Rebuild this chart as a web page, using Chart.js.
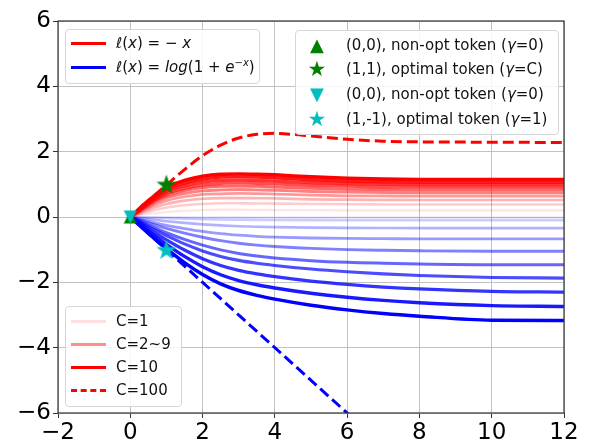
<!DOCTYPE html>
<html lang="en">
<head>
<meta charset="UTF-8">
<title>Token margin curves</title>
<style>
  body { margin: 0; background: #fff; font-family: "DejaVu Sans", sans-serif; }
  #wrap { position: relative; width: 610px; height: 443px; overflow: hidden; }
  .legend { position: absolute; background: rgba(255,255,255,0.85); border: 1px solid #d6d6d6; border-radius: 4px; font-size: 15px; color: #111; }
  .item { position: absolute; left: 0; height: 20px; line-height: 20px; white-space: nowrap; }
  .sw { position: absolute; left: 5px; width: 35px; top: 9px; }
  .lbl { position: absolute; left: 50px; top: 0; }
  .mk { position: absolute; width: 30px; text-align: center; top: 0; font-size: 18px; }
  .math i { font-style: italic; }
</style>
</head>
<body>
<div id="wrap">
  <canvas id="chart" width="610" height="443"></canvas>

  <!-- loss legend -->
  <div class="legend" style="left:65px;top:29px;width:193px;height:53px;">
    <div class="item" style="top:3px;"><div class="sw" style="border-top:3px solid #ff0000;"></div>
      <span class="lbl math"><i>ℓ</i>(<i>x</i>) = − <i>x</i></span></div>
    <div class="item" style="top:27px;"><div class="sw" style="border-top:3px solid #0000ff;"></div>
      <span class="lbl math"><i>ℓ</i>(<i>x</i>) = <i>log</i>(1 + <i>e</i><sup style="font-size:10px;line-height:0;">−<i>x</i></sup>)</span></div>
  </div>

  <!-- marker legend -->
  <div class="legend" style="left:295px;top:30px;width:262px;height:103px;">
    <div class="item" style="top:4px;"><span class="mk" style="left:6px;color:#008000;">▲</span><span class="lbl">(0,0), non-opt token (<i>γ</i>=0)</span></div>
    <div class="item" style="top:28px;"><span class="mk" style="left:6px;color:#008000;font-size:21px;">★</span><span class="lbl">(1,1), optimal token (<i>γ</i>=C)</span></div>
    <div class="item" style="top:53px;"><span class="mk" style="left:6px;color:#00bfbf;">▼</span><span class="lbl">(0,0), non-opt token (<i>γ</i>=0)</span></div>
    <div class="item" style="top:78px;"><span class="mk" style="left:6px;color:#00bfbf;font-size:21px;">★</span><span class="lbl">(1,-1), optimal token (<i>γ</i>=1)</span></div>
  </div>

  <!-- C legend -->
  <div class="legend" style="left:65px;top:306px;width:115px;height:99px;">
    <div class="item" style="top:4px;"><div class="sw" style="border-top:3px solid rgba(255,0,0,0.12);"></div><span class="lbl">C=1</span></div>
    <div class="item" style="top:27px;"><div class="sw" style="border-top:3px solid rgba(255,0,0,0.45);"></div><span class="lbl">C=2~9</span></div>
    <div class="item" style="top:50px;"><div class="sw" style="border-top:3px solid #ff0000;"></div><span class="lbl">C=10</span></div>
    <div class="item" style="top:73px;"><div class="sw" style="border-top:3px dashed #ff0000;"></div><span class="lbl">C=100</span></div>
  </div>
</div>

<script src="https://cdn.jsdelivr.net/npm/chart.js"></script>
<script>
// x positions of the sampled curves
const xsRed = [0, 0.5, 1, 1.5, 2, 2.5, 3, 3.5, 4, 5, 6, 7, 8, 10, 12];
const xsBlue = [0, 0.5, 1, 1.5, 2, 2.5, 3, 3.5, 4, 5, 6, 7, 8, 10, 12];
const xsRedDash = [0, 0.5, 1, 1.5, 2, 2.5, 3, 3.5, 4, 4.5, 5, 6, 7, 8, 10, 12];
const xsBlueDash = [0, 7];

// l(x) = -x, C = 1..10
const redC1  = [0, 0.09, 0.15, 0.19, 0.21, 0.22, 0.22, 0.215, 0.21, 0.21, 0.20, 0.20, 0.20, 0.20, 0.20];
const redC2  = [0, 0.16, 0.29, 0.36, 0.40, 0.42, 0.42, 0.415, 0.41, 0.40, 0.39, 0.385, 0.38, 0.38, 0.38];
const redC3  = [0, 0.23, 0.40, 0.50, 0.56, 0.58, 0.58, 0.575, 0.57, 0.54, 0.53, 0.525, 0.52, 0.52, 0.52];
const redC4  = [0, 0.29, 0.50, 0.62, 0.69, 0.71, 0.72, 0.715, 0.70, 0.67, 0.65, 0.645, 0.64, 0.64, 0.64];
const redC5  = [0, 0.34, 0.59, 0.72, 0.80, 0.83, 0.84, 0.83, 0.82, 0.78, 0.76, 0.75, 0.74, 0.74, 0.74];
const redC6  = [0, 0.38, 0.66, 0.81, 0.90, 0.94, 0.95, 0.94, 0.92, 0.88, 0.85, 0.84, 0.83, 0.83, 0.83];
const redC7  = [0, 0.41, 0.72, 0.88, 0.98, 1.03, 1.04, 1.03, 1.01, 0.97, 0.94, 0.92, 0.91, 0.91, 0.91];
const redC8  = [0, 0.44, 0.78, 0.96, 1.07, 1.12, 1.13, 1.12, 1.10, 1.05, 1.02, 1.00, 0.99, 0.99, 0.99];
const redC9  = [0, 0.47, 0.84, 1.04, 1.16, 1.22, 1.23, 1.22, 1.20, 1.14, 1.10, 1.08, 1.07, 1.07, 1.07];
const redC10 = [0, 0.50, 0.90, 1.12, 1.25, 1.31, 1.32, 1.31, 1.29, 1.23, 1.185, 1.16, 1.15, 1.15, 1.15];
const redC100 = [0, 0.50, 0.98, 1.45, 1.88, 2.20, 2.42, 2.53, 2.56, 2.53, 2.48, 2.38, 2.32, 2.30, 2.29, 2.28];

// l(x) = log(1 + e^-x), C = 1..10
const blueC1  = [0, -0.004, -0.008, -0.011, -0.013, -0.015, -0.017, -0.018, -0.018, -0.019, -0.02, -0.02, -0.02, -0.02, -0.02];
const blueC2  = [0, -0.02, -0.038, -0.053, -0.066, -0.076, -0.083, -0.088, -0.092, -0.096, -0.098, -0.099, -0.10, -0.10, -0.10];
const blueC3  = [0, -0.068, -0.129, -0.18, -0.224, -0.258, -0.282, -0.299, -0.311, -0.326, -0.333, -0.337, -0.34, -0.34, -0.34];
const blueC4  = [0, -0.134, -0.255, -0.355, -0.442, -0.509, -0.556, -0.59, -0.613, -0.643, -0.657, -0.663, -0.67, -0.67, -0.67];
const blueC5  = [0, -0.179, -0.347, -0.494, -0.62, -0.725, -0.803, -0.861, -0.903, -0.961, -0.998, -1.019, -1.034, -1.05, -1.05];
const blueC6  = [0, -0.248, -0.482, -0.686, -0.861, -1.007, -1.117, -1.197, -1.256, -1.336, -1.387, -1.416, -1.438, -1.46, -1.46];
const blueC7  = [0, -0.295, -0.57, -0.823, -1.038, -1.206, -1.328, -1.416, -1.483, -1.593, -1.677, -1.743, -1.791, -1.851, -1.87];
const blueC8  = [0, -0.363, -0.702, -1.012, -1.277, -1.484, -1.633, -1.741, -1.824, -1.96, -2.063, -2.144, -2.203, -2.277, -2.30];
const blueC9  = [0, -0.433, -0.836, -1.206, -1.521, -1.767, -1.945, -2.074, -2.173, -2.334, -2.458, -2.554, -2.625, -2.713, -2.74];
const blueC10 = [0, -0.50, -0.967, -1.395, -1.759, -2.045, -2.251, -2.40, -2.514, -2.701, -2.843, -2.954, -3.037, -3.16, -3.17];
const blueC100 = [0, -7];

// marker points
const greenTri = [{x: 0, y: 0}];
const greenStar = [{x: 1, y: 1}];
const cyanTri = [{x: 0, y: 0}];
const cyanStar = [{x: 1, y: -1}];

const xTicks = [-2, 0, 2, 4, 6, 8, 10, 12];
const yTicks = [-6, -4, -2, 0, 2, 4, 6];

const redCurves = [redC1, redC2, redC3, redC4, redC5, redC6, redC7, redC8, redC9, redC10];
const blueCurves = [blueC1, blueC2, blueC3, blueC4, blueC5, blueC6, blueC7, blueC8, blueC9, blueC10];

function pts(xs, ys) {
  return xs.map((x, i) => ({x: x, y: ys[i]}));
}

function makeStar(color, size) {
  const c = document.createElement('canvas');
  c.width = size; c.height = size;
  const g = c.getContext('2d');
  const cx = size / 2, cy = size / 2 + 0.8, R = size / 2 - 0.5, r = R * 0.4;
  g.beginPath();
  for (let i = 0; i < 10; i++) {
    const a = -Math.PI / 2 + i * Math.PI / 5;
    const rad = i % 2 === 0 ? R : r;
    g.lineTo(cx + rad * Math.cos(a), cy + rad * Math.sin(a));
  }
  g.closePath();
  g.fillStyle = color;
  g.fill();
  return c;
}

// matplotlib-style triangle, centred on its bounding box
function makeTri(color, size, down) {
  const c = document.createElement('canvas');
  c.width = size; c.height = size;
  const g = c.getContext('2d');
  g.beginPath();
  if (down) {
    g.moveTo(size / 2, size - 0.5); g.lineTo(0.5, 0.5); g.lineTo(size - 0.5, 0.5);
  } else {
    g.moveTo(size / 2, 0.5); g.lineTo(0.5, size - 0.5); g.lineTo(size - 0.5, size - 0.5);
  }
  g.closePath();
  g.fillStyle = color;
  g.fill();
  return c;
}

function minus(v) {
  return v < 0 ? '\u2212' + Math.abs(v) : String(v);
}

const datasets = [];

// markers on top
datasets.push({ data: cyanStar, showLine: false, pointStyle: makeStar('#00bfbf', 22), pointRadius: 10, clip: false });
datasets.push({ data: greenStar, showLine: false, pointStyle: makeStar('#008000', 22), pointRadius: 10, clip: false });
datasets.push({ data: cyanTri, showLine: false, pointStyle: makeTri('#00bfbf', 14, true), pointRadius: 7, clip: false });
datasets.push({ data: greenTri, showLine: false, pointStyle: makeTri('#008000', 14, false), pointRadius: 7, clip: false });

// C = 100 dashed
datasets.push({ data: pts(xsRedDash, redC100), borderColor: '#ff0000', borderWidth: 3, borderDash: [11, 5],
  pointRadius: 0, cubicInterpolationMode: 'monotone' });
datasets.push({ data: pts(xsBlueDash, blueC100), borderColor: '#0000ff', borderWidth: 3, borderDash: [11, 5],
  pointRadius: 0 });

for (let c = 10; c >= 1; c--) {
  datasets.push({ data: pts(xsRed, redCurves[c - 1]), borderColor: `rgba(255,0,0,${c / 10})`,
    borderWidth: 2.3 + c * 0.12, pointRadius: 0, cubicInterpolationMode: 'monotone' });
}
for (let c = 10; c >= 1; c--) {
  datasets.push({ data: pts(xsBlue, blueCurves[c - 1]), borderColor: `rgba(0,0,255,${c / 10})`,
    borderWidth: 2.3 + c * 0.12, pointRadius: 0, cubicInterpolationMode: 'monotone' });
}

const frame = {
  id: 'frame',
  afterDatasetsDraw(chart) {
    const a = chart.chartArea, ctx = chart.ctx;
    ctx.save();
    ctx.strokeStyle = '#333';
    ctx.lineWidth = 1.2;
    ctx.strokeRect(a.left, a.top, a.right - a.left, a.bottom - a.top);
    ctx.restore();
  }
};

Chart.defaults.font.family = '"DejaVu Sans", sans-serif';

new Chart(document.getElementById('chart'), {
  type: 'line',
  data: { datasets: datasets },
  options: {
    responsive: false,
    animation: false,
    events: [],
    layout: { padding: { top: 21, right: 46, left: 0, bottom: 0 } },
    plugins: { legend: { display: false }, tooltip: { enabled: false } },
    scales: {
      x: {
        type: 'linear', min: -2, max: 12,
        afterBuildTicks: s => { s.ticks = xTicks.map(v => ({value: v})); },
        afterFit: s => { s.height = 30; },
        ticks: { font: { size: 23 }, color: '#000', padding: 1, maxRotation: 0, callback: minus },
        grid: { color: '#c2c2c2', lineWidth: 1, tickColor: '#333', tickLength: 5 },
        border: { display: false }
      },
      y: {
        min: -6, max: 6,
        afterBuildTicks: s => { s.ticks = yTicks.map(v => ({value: v})); },
        afterFit: s => { s.width = 58; },
        ticks: { font: { size: 23 }, color: '#000', padding: 2, callback: minus },
        grid: { color: '#c2c2c2', lineWidth: 1, tickColor: '#333', tickLength: 5 },
        border: { display: false }
      }
    }
  },
  plugins: [frame]
});
</script>
</body>
</html>
